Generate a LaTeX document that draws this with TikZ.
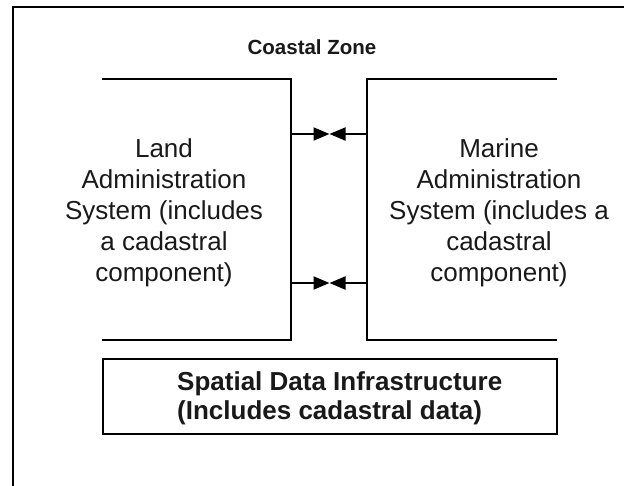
\documentclass[tikz,border=0pt]{standalone}
\usepackage{fontspec}
\setmainfont{Liberation Sans}
\usetikzlibrary{arrows.meta}
\begin{document}
\begin{tikzpicture}[x=1pt,y=-1pt,
  wall/.style={line width=2pt,line join=miter},
  link/.style={line width=2pt,-{Triangle[length=16pt,width=13pt]}},
  systext/.style={align=center,inner sep=0pt,font=\fontsize{26}{31}\selectfont,text=black!90},
  sdtext/.style={align=left,inner sep=0pt,font=\fontsize{26}{29}\selectfont\bfseries,text=black!90},
  titletext/.style={inner sep=0pt,font=\fontsize{20.5}{24}\selectfont\bfseries,text=black!90}]
\useasboundingbox (0,0) rectangle (624,485);
% outer frame (cut by the page on right and bottom)
\coordinate (fbl) at (13,490);
\coordinate (ftl) at (13,7);
\coordinate (ftr) at (630,7);
\draw[wall] (fbl) -- (ftl) -- (ftr);
\node[titletext] (title) at (312,47) {Coastal Zone};
% land system
\coordinate (l1) at (102,79);
\coordinate (l2) at (291,79);
\coordinate (l3) at (291,340);
\coordinate (l4) at (102,340);
\draw[wall] (l1) -- (l2) -- (l3) -- (l4);
% marine system
\coordinate (m1) at (557,79);
\coordinate (m2) at (367,79);
\coordinate (m3) at (367,340);
\coordinate (m4) at (557,340);
\draw[wall] (m1) -- (m2) -- (m3) -- (m4);
\node[systext] (land) at (164,213) {Land\\Administration\\System (includes\\a cadastral\\component)};
\node[systext] (marine) at (499,213) {Marine\\Administration\\System (includes a\\cadastral\\component)};
% arrows
\coordinate (la) at (291,134);
\coordinate (ma) at (367,134);
\coordinate (ta) at (329.5,134);
\coordinate (lb) at (291,283);
\coordinate (mb) at (367,283);
\coordinate (tb) at (329.5,283);
\draw[link] (la) -- (ta);
\draw[link] (ma) -- (ta);
\draw[link] (lb) -- (tb);
\draw[link] (mb) -- (tb);
% SDI
\node[draw,line width=2pt,minimum width=454pt,minimum height=75pt,inner sep=0pt,anchor=north west] (sdi) at (102,358) {};
\node[sdtext,anchor=west] (sditext) at (177,398) {Spatial Data Infrastructure\\(Includes cadastral data)};
\end{tikzpicture}
\end{document}
